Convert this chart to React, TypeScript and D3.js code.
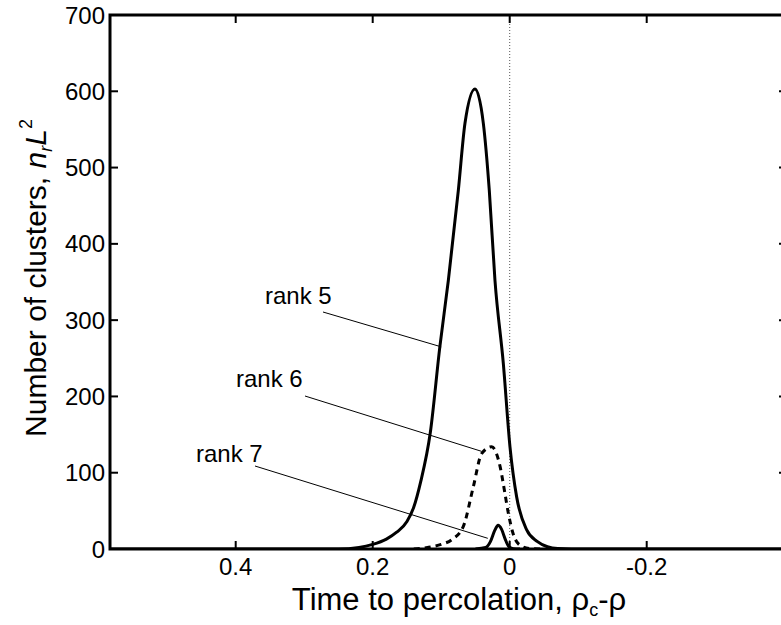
import React from "react";
import * as d3 from "d3";

const xTicks = [0.4, 0.2, 0, -0.2];
const yTicks = [0, 100, 200, 300, 400, 500, 600, 700];

const rank5X = [0.5835, 0.3, 0.25, 0.22, 0.2, 0.18, 0.165, 0.15, 0.14, 0.13, 0.116, 0.102, 0.0896, 0.075, 0.0653, 0.0507, 0.0385, 0.0298, 0.0215, 0.0093, -0.0004, -0.0102, -0.0248, -0.04, -0.055, -0.07, -0.09, -0.41];
const rank5Y = [0, 0, 0, 2, 6, 13, 22, 36, 55, 88, 152, 265, 352, 470, 558, 603, 558, 470, 352, 243, 134, 68, 25, 10, 3, 0.5, 0, 0];

const rank6X = [0.14, 0.12, 0.1, 0.085, 0.068, 0.053, 0.041, 0.0263, 0.014, 0.007, 0.002, -0.005, -0.015, -0.03, -0.045];
const rank6Y = [0, 2, 6, 12, 29, 82, 125, 134, 108, 73, 47, 20, 5, 0.5, 0];

const rank7X = [0.05, 0.035, 0.028, 0.022, 0.017, 0.012, 0.007, 0.002, -0.005, -0.015];
const rank7Y = [0, 2, 10, 24, 31, 26, 14, 4, 0.5, 0];

const labels = ["rank 5", "rank 6", "rank 7"];

const W = 781;
const H = 625;
const L = 110;
const R = 787;
const T = 15;
const B = 549;

export default function App() {
  const x = d3.scaleLinear().domain([0.5835, -0.4048]).range([L, R]);
  const y = d3.scaleLinear().domain([0, 700]).range([B, T]);
  const line = d3
    .line<[number, number]>()
    .x((d) => x(d[0]))
    .y((d) => y(d[1]))
    .curve(d3.curveMonotoneX);
  const zip = (a: number[], b: number[]) => a.map((v, i) => [v, b[i]] as [number, number]);
  const p5 = line(zip(rank5X, rank5Y)) || "";
  const p6 = line(zip(rank6X, rank6Y)) || "";
  const p7 = line(zip(rank7X, rank7Y)) || "";

  const font = "'Liberation Sans', Arial, Helvetica, sans-serif";
  const tickLen = 8;

  const ann = [
    { label: labels[0], tx: 265, ty: 304, x1: 323, y1: 312, ex: 0.1, ey: 265 },
    { label: labels[1], tx: 236, ty: 387, x1: 305, y1: 396, ex: 0.041, ey: 128 },
    { label: labels[2], tx: 196, ty: 462, x1: 255, y1: 466, ex: 0.032, ey: 14 },
  ];

  return (
    <svg
      width={W}
      height={H}
      style={{ position: "absolute", left: 0, top: 0, background: "#fff" }}
      fontFamily={font}
    >
      <defs>
        <clipPath id="plot">
          <rect x={L} y={T} width={R - L} height={B - T} />
        </clipPath>
      </defs>
      <rect x={0} y={0} width={W} height={H} fill="#fff" />

      <line
        x1={x(0)}
        x2={x(0)}
        y1={T}
        y2={B}
        stroke="#555"
        strokeWidth={1}
        strokeDasharray="1,2"
      />

      <g clipPath="url(#plot)" fill="none" stroke="#000" strokeLinejoin="round">
        <path d={p5} strokeWidth={3} />
        <path d={p6} strokeWidth={3} strokeDasharray="6,5" />
        <path d={p7} strokeWidth={3} />
      </g>

      {ann.map((a) => (
        <g key={a.label}>
          <text x={a.tx} y={a.ty} fontSize={24} fill="#000">
            {a.label}
          </text>
          <line x1={a.x1} y1={a.y1} x2={x(a.ex)} y2={y(a.ey)} stroke="#000" strokeWidth={1} />
        </g>
      ))}

      {yTicks.map((t) => (
        <g key={"y" + t}>
          <line x1={L} x2={L + tickLen} y1={y(t)} y2={y(t)} stroke="#000" strokeWidth={2} />
          <line x1={R} x2={R - tickLen} y1={y(t)} y2={y(t)} stroke="#000" strokeWidth={2} />
          <text x={105} y={y(t)} dy="0.36em" textAnchor="end" fontSize={24} fill="#000">
            {t}
          </text>
        </g>
      ))}
      {xTicks.map((t) => (
        <g key={"x" + t}>
          <line x1={x(t)} x2={x(t)} y1={B} y2={B - tickLen} stroke="#000" strokeWidth={2} />
          <line x1={x(t)} x2={x(t)} y1={T} y2={T + tickLen} stroke="#000" strokeWidth={2} />
          <text x={x(t)} y={B + 26} textAnchor="middle" fontSize={24} fill="#000">
            {t}
          </text>
        </g>
      ))}

      <rect x={L} y={T} width={R - L} height={B - T} fill="none" stroke="#000" strokeWidth={3} />

      <text x={459} y={610} textAnchor="middle" fontSize={31} fill="#000">
        Time to percolation, ρ
        <tspan fontSize={18} dy={6}>c</tspan>
        <tspan dy={-6}>-ρ</tspan>
      </text>
      <text
        transform={`translate(46, 278) rotate(-90)`}
        textAnchor="middle"
        fontSize={30}
        fill="#000"
      >
        Number of clusters, <tspan fontStyle="italic">n</tspan>
        <tspan fontStyle="italic" fontSize={18} dy={6}>r</tspan>
        <tspan fontStyle="italic" dy={-6}>L</tspan>
        <tspan fontSize={18} dy={-14}>2</tspan>
      </text>
    </svg>
  );
}
